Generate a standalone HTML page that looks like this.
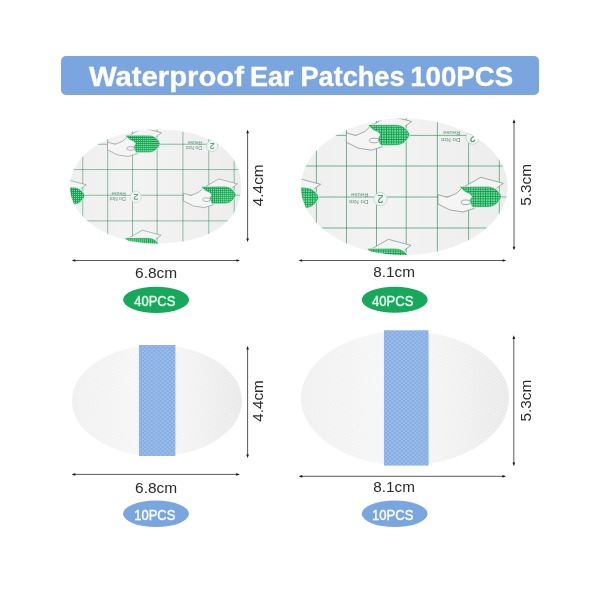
<!DOCTYPE html>
<html><head><meta charset="utf-8">
<style>
html,body{margin:0;padding:0;background:#fff;}
body{width:600px;height:600px;position:relative;overflow:hidden;font-family:"Liberation Sans",Arial,sans-serif;}
svg{position:absolute;left:0;top:0;}
</style></head>
<body>
<svg width="600" height="600" viewBox="0 0 600 600">
<defs>


<clipPath id="blclip"><ellipse cx="157" cy="400.7" rx="85" ry="55.4"/></clipPath>
<clipPath id="brclip"><ellipse cx="405" cy="398.2" rx="104" ry="67.3"/></clipPath>
<linearGradient id="gbl" gradientUnits="userSpaceOnUse" x1="72" y1="0" x2="242" y2="0">
  <stop offset="0" stop-color="#efefef"/><stop offset="0.35" stop-color="#f5f5f5"/><stop offset="0.65" stop-color="#f3f3f3"/><stop offset="1" stop-color="#e8e8e8"/>
</linearGradient>
<linearGradient id="gbr" gradientUnits="userSpaceOnUse" x1="301" y1="0" x2="509" y2="0">
  <stop offset="0" stop-color="#efefef"/><stop offset="0.35" stop-color="#f5f5f5"/><stop offset="0.65" stop-color="#f3f3f3"/><stop offset="1" stop-color="#e8e8e8"/>
</linearGradient>
<linearGradient id="wband" gradientUnits="userSpaceOnUse" x1="135" y1="0" x2="179.3" y2="0">
  <stop offset="0" stop-color="#f9f9f9" stop-opacity="0"/><stop offset="0.09" stop-color="#eef4fb"/><stop offset="0.91" stop-color="#eef4fb"/><stop offset="1" stop-color="#f9f9f9" stop-opacity="0"/>
</linearGradient>
<linearGradient id="wband2" gradientUnits="userSpaceOnUse" x1="379.5" y1="0" x2="433" y2="0">
  <stop offset="0" stop-color="#f9f9f9" stop-opacity="0"/><stop offset="0.085" stop-color="#eef4fb"/><stop offset="0.915" stop-color="#eef4fb"/><stop offset="1" stop-color="#f9f9f9" stop-opacity="0"/>
</linearGradient>
<pattern id="hex" patternUnits="userSpaceOnUse" width="4" height="3.4">
  <circle cx="1" cy="0.85" r="0.8" fill="#ffffff" fill-opacity="0.45"/>
  <circle cx="3" cy="2.55" r="0.8" fill="#ffffff" fill-opacity="0.45"/>
</pattern>
<pattern id="hexb" patternUnits="userSpaceOnUse" width="4.5" height="4">
  <circle cx="1.1" cy="1" r="1.2" fill="#b9d1f2" fill-opacity="0.4"/>
  <circle cx="3.35" cy="3" r="1.2" fill="#b9d1f2" fill-opacity="0.4"/>
</pattern>
<clipPath id="tpclip"><path d="M507.50,186.75 C507.50,224.44 461.27,255.00 404.25,255.00 C347.23,255.00 301.00,224.44 301.00,186.75 C301.00,149.06 347.23,118.50 404.25,118.50 C461.27,118.50 507.50,149.06 507.50,186.75 Z"/></clipPath>
<pattern id="mesh" patternUnits="userSpaceOnUse" width="2.45" height="2.45">
  <rect width="2.45" height="2.45" fill="#68e09b"/>
  <path d="M0,0.4 H2.45 M0.4,0 V2.45" stroke="#1a9a50" stroke-width="0.8"/>
</pattern>
<linearGradient id="gtp" gradientUnits="userSpaceOnUse" x1="301" y1="0" x2="507.5" y2="0">
  <stop offset="0" stop-color="#efefef"/><stop offset="0.4" stop-color="#f3f3f3"/><stop offset="1" stop-color="#ededed"/>
</linearGradient>
<g id="hand">
  <path d="M438,194.7 L447.3,197.3 L456.7,193.3 L462,188 L474,197 L474,208.5 L463.3,212 L450,210 L438,204 Z" fill="#f5f5f5" stroke="#7b8c82" stroke-width="0.7"/>
  <path d="M462,188 L480.7,177.3 L503.3,183.3 L496.7,188" fill="#f4f4f4" stroke="#7b8c82" stroke-width="0.7"/>
  <path d="M460.7,187.3 L487,187.2 C494,187.2 499,191 500.7,196.4 C499,202 494,206.4 488,206.4 L472.7,206.4 L471.3,203.3 L470.5,200 L472.7,196.7 L470,193.3 L465.3,191.3 Z" fill="none" stroke="#cdf3dc" stroke-width="2.6" stroke-linejoin="round"/>
  <path d="M460.7,187.3 L487,187.2 C494,187.2 499,191 500.7,196.4 C499,202 494,206.4 488,206.4 L472.7,206.4 L471.3,203.3 L470.5,200 L472.7,196.7 L470,193.3 L465.3,191.3 Z" fill="url(#mesh)" stroke="#1f9f55" stroke-width="0.7"/>
  <ellipse cx="465.8" cy="202.3" rx="4.6" ry="2.3" fill="#f5f5f5" stroke="#7b8c82" stroke-width="0.7"/>
</g>
<g id="mark">
  <circle cx="380.5" cy="199.1" r="6.7" fill="#eef6f1" stroke="#c2d8cc" stroke-width="0.9"/>
  <text x="380.5" y="199.1" transform="rotate(180 380.5 199.1)" dy="4" font-size="11" text-anchor="middle" fill="#3f8a62" font-family="Liberation Sans, sans-serif">2</text>
  <g transform="rotate(180 359 197.8)" font-size="5.4" fill="#5a977a" font-family="Liberation Sans, sans-serif">
    <text x="349.6" y="196" textLength="19.4" lengthAdjust="spacingAndGlyphs">Do Not</text>
    <text x="349.6" y="202.8" textLength="17.4" lengthAdjust="spacingAndGlyphs">Reuse</text>
  </g>
</g>
<g id="tpc">
    <g stroke="#e6f7ec" stroke-width="1.6">
<line x1="316.4" y1="110" x2="316.4" y2="262"/>
<line x1="346.5" y1="110" x2="346.5" y2="262"/>
<line x1="376.5" y1="110" x2="376.5" y2="262"/>
<line x1="406.2" y1="110" x2="406.2" y2="262"/>
<line x1="437.4" y1="110" x2="437.4" y2="262"/>
<line x1="468.6" y1="110" x2="468.6" y2="262"/>
<line x1="499.3" y1="110" x2="499.3" y2="262"/>
<line x1="295" y1="135.4" x2="515" y2="135.4"/>
<line x1="295" y1="166.0" x2="515" y2="166.0"/>
<line x1="295" y1="197.0" x2="515" y2="197.0"/>
<line x1="295" y1="228.0" x2="515" y2="228.0"/>
    </g>
    <g stroke="#347a58" stroke-width="0.6">
<line x1="316.4" y1="110" x2="316.4" y2="262"/>
<line x1="346.5" y1="110" x2="346.5" y2="262"/>
<line x1="376.5" y1="110" x2="376.5" y2="262"/>
<line x1="406.2" y1="110" x2="406.2" y2="262"/>
<line x1="437.4" y1="110" x2="437.4" y2="262"/>
<line x1="468.6" y1="110" x2="468.6" y2="262"/>
<line x1="499.3" y1="110" x2="499.3" y2="262"/>
<line x1="295" y1="135.4" x2="515" y2="135.4"/>
<line x1="295" y1="166.0" x2="515" y2="166.0"/>
<line x1="295" y1="197.0" x2="515" y2="197.0"/>
<line x1="295" y1="228.0" x2="515" y2="228.0"/>
    </g>
    <use href="#mark" transform="translate(0.00,0.00)"/>
    <use href="#mark" transform="translate(92.10,-61.50)"/>
    <use href="#hand" transform="translate(0.00,0.00)"/>
    <use href="#hand" transform="translate(-91.70,-61.80)"/>
    <use href="#hand" transform="translate(-92.30,62.00)"/>
    <use href="#hand" transform="translate(-182.70,1.00)"/>
</g>
<clipPath id="tlclip"><path d="M241.00,186.60 C241.00,222.51 209.37,243.60 155.50,243.60 C108.28,243.60 70.00,218.08 70.00,186.60 C70.00,155.12 108.28,129.60 155.50,129.60 C209.37,129.60 241.00,150.69 241.00,186.60 Z"/></clipPath>
<linearGradient id="gtl" gradientUnits="userSpaceOnUse" x1="70" y1="0" x2="241" y2="0">
  <stop offset="0" stop-color="#efefef"/><stop offset="0.4" stop-color="#f3f3f3"/><stop offset="1" stop-color="#ededed"/>
</linearGradient>

</defs>
<rect x="61" y="56" width="478" height="39" rx="5" fill="#7aa5de"/>
<g font-family="Liberation Sans, Arial, sans-serif" font-weight="bold" font-size="27.5" fill="#ffffff" stroke="#ffffff" stroke-width="0.35">
<text x="89" y="86" textLength="155" lengthAdjust="spacingAndGlyphs">Waterproof</text>
<text x="250" y="86" textLength="43.5" lengthAdjust="spacingAndGlyphs">Ear</text>
<text x="300.5" y="86" textLength="104" lengthAdjust="spacingAndGlyphs">Patches</text>
<text x="410.2" y="86" textLength="103" lengthAdjust="spacingAndGlyphs">100PCS</text>
</g>

<!-- top-left patch -->
<path d="M241.00,186.60 C241.00,222.51 209.37,243.60 155.50,243.60 C108.28,243.60 70.00,218.08 70.00,186.60 C70.00,155.12 108.28,129.60 155.50,129.60 C209.37,129.60 241.00,150.69 241.00,186.60 Z" fill="url(#gtl)"/>
<g clip-path="url(#tlclip)"><use href="#tpc" transform="translate(155.5,186.75) scale(0.82781) translate(-404.25,-186.75)"/></g>
<!-- top-right patch -->
<path d="M507.50,186.75 C507.50,224.44 461.27,255.00 404.25,255.00 C347.23,255.00 301.00,224.44 301.00,186.75 C301.00,149.06 347.23,118.50 404.25,118.50 C461.27,118.50 507.50,149.06 507.50,186.75 Z" fill="url(#gtp)"/>
<g clip-path="url(#tpclip)"><use href="#tpc"/></g>
<!-- bottom-left patch -->
<ellipse cx="157" cy="400.7" rx="85" ry="55.4" fill="url(#gbl)"/>
<ellipse cx="157" cy="400.7" rx="85" ry="55.4" fill="url(#hex)"/>
<rect x="135" y="345" width="44.3" height="111" fill="url(#wband)" clip-path="url(#blclip)"/>
<rect x="139" y="345" width="36.3" height="111" fill="#85ade3"/>
<rect x="139" y="345" width="36.3" height="111" fill="url(#hexb)"/>
<!-- bottom-right patch -->
<ellipse cx="405" cy="398.2" rx="104" ry="67.3" fill="url(#gbr)"/>
<ellipse cx="405" cy="398.2" rx="104" ry="67.3" fill="url(#hex)"/>
<rect x="379.5" y="330.3" width="53.5" height="135.2" fill="url(#wband2)" clip-path="url(#brclip)"/>
<rect x="384" y="330.3" width="44.5" height="135.2" fill="#85ade3"/>
<rect x="384" y="330.3" width="44.5" height="135.2" fill="url(#hexb)"/>

<!-- dimension lines -->
<g stroke="#5a5a5a" stroke-width="1" fill="none">
<line x1="73.2" y1="260.5" x2="238.5" y2="260.5"/>
<line x1="300.0" y1="260.5" x2="504.7" y2="260.5"/>
<line x1="73.2" y1="474.4" x2="238.3" y2="474.4"/>
<line x1="300.2" y1="476.3" x2="504.5" y2="476.3"/>
<line x1="247.6" y1="131.2" x2="247.6" y2="240.5"/>
<line x1="514.0" y1="120.8" x2="514.0" y2="248.8"/>
<line x1="247.6" y1="347.5" x2="247.6" y2="456.5"/>
<line x1="513.8" y1="336.8" x2="513.8" y2="464.5"/>
</g><g fill="#1a1a1a">
<path d="M71.7,260.5 l3.6,-1.35 v2.7z M240.0,260.5 l-3.6,-1.35 v2.7z"/>
<path d="M298.5,260.5 l3.6,-1.35 v2.7z M506.2,260.5 l-3.6,-1.35 v2.7z"/>
<path d="M71.7,474.4 l3.6,-1.35 v2.7z M239.8,474.4 l-3.6,-1.35 v2.7z"/>
<path d="M298.7,476.3 l3.6,-1.35 v2.7z M506.0,476.3 l-3.6,-1.35 v2.7z"/>
<path d="M247.6,129.7 l-1.35,3.6 h2.7z M247.6,242.0 l-1.35,-3.6 h2.7z"/>
<path d="M514.0,119.3 l-1.35,3.6 h2.7z M514.0,250.3 l-1.35,-3.6 h2.7z"/>
<path d="M247.6,346.0 l-1.35,3.6 h2.7z M247.6,458.0 l-1.35,-3.6 h2.7z"/>
<path d="M513.8,335.3 l-1.35,3.6 h2.7z M513.8,466.0 l-1.35,-3.6 h2.7z"/>
</g>
<!-- labels -->
<g font-family="Liberation Sans, Arial, sans-serif" font-size="15.5" fill="#2a2a2a">
  <text x="135.1" y="277.7" textLength="42.1" lengthAdjust="spacingAndGlyphs">6.8cm</text>
  <text x="373.3" y="276.8" textLength="41.6" lengthAdjust="spacingAndGlyphs">8.1cm</text>
  <text x="135.1" y="493.4" textLength="42.1" lengthAdjust="spacingAndGlyphs">6.8cm</text>
  <text x="373.3" y="492.2" textLength="41.6" lengthAdjust="spacingAndGlyphs">8.1cm</text>
  <text transform="translate(262.7,206.2) rotate(-90)" textLength="41.8" lengthAdjust="spacingAndGlyphs">4.4cm</text>
  <text transform="translate(530.8,205.8) rotate(-90)" textLength="41.8" lengthAdjust="spacingAndGlyphs">5.3cm</text>
  <text transform="translate(262.7,421.8) rotate(-90)" textLength="41.5" lengthAdjust="spacingAndGlyphs">4.4cm</text>
  <text transform="translate(530.8,421.5) rotate(-90)" textLength="41.8" lengthAdjust="spacingAndGlyphs">5.3cm</text>
</g>

<!-- pills -->
<ellipse cx="156.1" cy="299.8" rx="33" ry="13.1" fill="#16a85b"/>
<ellipse cx="394.7" cy="299.7" rx="33" ry="13" fill="#16a85b"/>
<ellipse cx="156" cy="513.8" rx="33" ry="13.2" fill="#7aa6df"/>
<ellipse cx="394.7" cy="513.8" rx="33" ry="13.2" fill="#7aa6df"/>
<g font-family="Liberation Sans, Arial, sans-serif" font-size="14.4" font-weight="normal" stroke-width="0.4">
  <text x="134.3" y="305.5" fill="#e9fff0" stroke="#e9fff0" textLength="41" lengthAdjust="spacingAndGlyphs">40PCS</text>
  <text x="371.9" y="305.7" fill="#e9fff0" stroke="#e9fff0" textLength="41.5" lengthAdjust="spacingAndGlyphs">40PCS</text>
  <text x="134.3" y="519.8" fill="#fff" stroke="#fff" textLength="41" lengthAdjust="spacingAndGlyphs">10PCS</text>
  <text x="371.9" y="519.8" fill="#fff" stroke="#fff" textLength="41.5" lengthAdjust="spacingAndGlyphs">10PCS</text>
</g>
</svg>
</body></html>
